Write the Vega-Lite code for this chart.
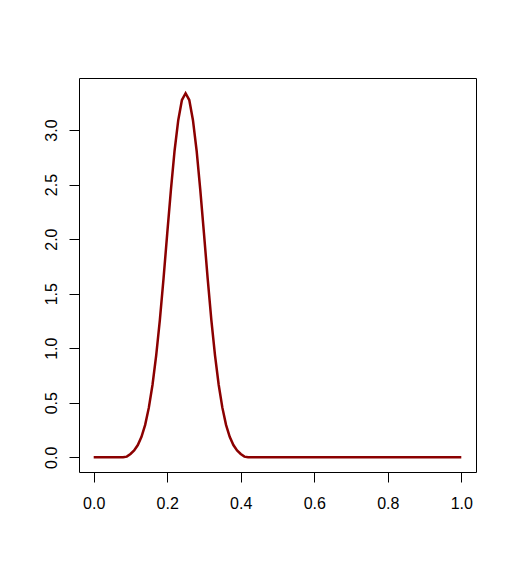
{
  "$schema": "https://vega.github.io/schema/vega-lite/v6.json",
  "autosize": {"type": "none"},
  "width": 397,
  "height": 394,
  "padding": {"left": 79, "top": 78, "right": 40, "bottom": 98},
  "background": "white",
  "config": {
    "view": {"stroke": "black", "strokeWidth": 1},
    "font": "Liberation Sans",
    "axis": {
      "domain": false,
      "grid": false,
      "tickColor": "black",
      "tickSize": 10,
      "tickWidth": 1,
      "labelColor": "black",
      "labelFont": "Liberation Sans",
      "labelFontSize": 16,
      "title": null
    }
  },
  "data": {
    "values": [
      {"x": 0.00, "y": 0}, {"x": 0.01, "y": 0}, {"x": 0.02, "y": 0}, {"x": 0.03, "y": 0},
      {"x": 0.04, "y": 0}, {"x": 0.05, "y": 0}, {"x": 0.06, "y": 0}, {"x": 0.07, "y": 0},
      {"x": 0.08, "y": 0}, {"x": 0.09, "y": 0.006}, {"x": 0.10, "y": 0.030},
      {"x": 0.11, "y": 0.062}, {"x": 0.12, "y": 0.112}, {"x": 0.13, "y": 0.187},
      {"x": 0.14, "y": 0.297}, {"x": 0.15, "y": 0.455}, {"x": 0.16, "y": 0.665},
      {"x": 0.17, "y": 0.935}, {"x": 0.18, "y": 1.26}, {"x": 0.19, "y": 1.64},
      {"x": 0.20, "y": 2.05}, {"x": 0.21, "y": 2.45}, {"x": 0.22, "y": 2.81},
      {"x": 0.23, "y": 3.09}, {"x": 0.24, "y": 3.275}, {"x": 0.25, "y": 3.337},
      {"x": 0.26, "y": 3.275}, {"x": 0.27, "y": 3.09}, {"x": 0.28, "y": 2.81},
      {"x": 0.29, "y": 2.45}, {"x": 0.30, "y": 2.05}, {"x": 0.31, "y": 1.64},
      {"x": 0.32, "y": 1.26}, {"x": 0.33, "y": 0.935}, {"x": 0.34, "y": 0.665},
      {"x": 0.35, "y": 0.455}, {"x": 0.36, "y": 0.297}, {"x": 0.37, "y": 0.187},
      {"x": 0.38, "y": 0.112}, {"x": 0.39, "y": 0.062}, {"x": 0.40, "y": 0.030},
      {"x": 0.41, "y": 0.006}, {"x": 0.42, "y": 0}, {"x": 0.43, "y": 0},
      {"x": 0.44, "y": 0}, {"x": 0.45, "y": 0}, {"x": 0.46, "y": 0}, {"x": 0.47, "y": 0},
      {"x": 0.48, "y": 0}, {"x": 0.49, "y": 0}, {"x": 0.50, "y": 0}, {"x": 0.51, "y": 0},
      {"x": 0.52, "y": 0}, {"x": 0.53, "y": 0}, {"x": 0.54, "y": 0}, {"x": 0.55, "y": 0},
      {"x": 0.56, "y": 0}, {"x": 0.57, "y": 0}, {"x": 0.58, "y": 0}, {"x": 0.59, "y": 0},
      {"x": 0.60, "y": 0}, {"x": 0.61, "y": 0}, {"x": 0.62, "y": 0}, {"x": 0.63, "y": 0},
      {"x": 0.64, "y": 0}, {"x": 0.65, "y": 0}, {"x": 0.66, "y": 0}, {"x": 0.67, "y": 0},
      {"x": 0.68, "y": 0}, {"x": 0.69, "y": 0}, {"x": 0.70, "y": 0}, {"x": 0.71, "y": 0},
      {"x": 0.72, "y": 0}, {"x": 0.73, "y": 0}, {"x": 0.74, "y": 0}, {"x": 0.75, "y": 0},
      {"x": 0.76, "y": 0}, {"x": 0.77, "y": 0}, {"x": 0.78, "y": 0}, {"x": 0.79, "y": 0},
      {"x": 0.80, "y": 0}, {"x": 0.81, "y": 0}, {"x": 0.82, "y": 0}, {"x": 0.83, "y": 0},
      {"x": 0.84, "y": 0}, {"x": 0.85, "y": 0}, {"x": 0.86, "y": 0}, {"x": 0.87, "y": 0},
      {"x": 0.88, "y": 0}, {"x": 0.89, "y": 0}, {"x": 0.90, "y": 0}, {"x": 0.91, "y": 0},
      {"x": 0.92, "y": 0}, {"x": 0.93, "y": 0}, {"x": 0.94, "y": 0}, {"x": 0.95, "y": 0},
      {"x": 0.96, "y": 0}, {"x": 0.97, "y": 0}, {"x": 0.98, "y": 0}, {"x": 0.99, "y": 0},
      {"x": 1.00, "y": 0}
    ]
  },
  "mark": {"type": "line", "color": "#8B0000", "strokeWidth": 2.5, "clip": true},
  "encoding": {
    "x": {
      "field": "x",
      "type": "quantitative",
      "scale": {"domain": [-0.04, 1.04], "nice": false, "zero": false},
      "axis": {"values": [0, 0.2, 0.4, 0.6, 0.8, 1.0], "format": ".1f", "labelPadding": 13, "labelFlush": false}
    },
    "y": {
      "field": "y",
      "type": "quantitative",
      "scale": {"domain": [-0.135, 3.477], "nice": false, "zero": false},
      "axis": {"values": [0, 0.5, 1, 1.5, 2, 2.5, 3], "format": ".1f", "labelAngle": -90, "labelAlign": "center", "labelBaseline": "bottom", "labelPadding": 10, "labelFlush": false}
    }
  }
}
